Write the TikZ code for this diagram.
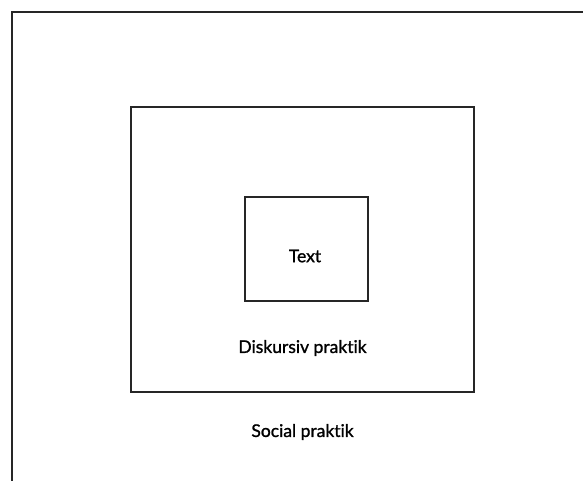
\documentclass[tikz,border=0pt]{standalone}
\usepackage{fontspec}
\setmainfont{Lato}
\newfontfamily\lblfont{Lato}[FakeBold=1.2, Ligatures=NoCommon]
\begin{document}
\begin{tikzpicture}[x=1pt,y=-1pt,
  frame/.style={draw=black!85, line width=1.2pt, inner sep=0pt, outer sep=0pt},
  lbl/.style={font=\lblfont\fontsize{17.5}{20}\selectfont, inner sep=0pt}]
\useasboundingbox (0,0) rectangle (583,480);
\clip (0,0) rectangle (583,480);
\node[frame, minimum width=598pt, minimum height=498pt, anchor=north west] (social) at (12,12) {};
\node[frame, minimum width=343pt, minimum height=285pt, anchor=north west] (disk) at (131,107) {};
\node[frame, minimum width=123pt, minimum height=104pt, anchor=north west] (text) at (245,197) {};
\node[lbl] (tl) at (305,256) {Text};
\node[lbl] (dl) at (302.5,348) {Diskursiv praktik};
\node[lbl] (sl) at (302.5,432) {Social praktik};
\end{tikzpicture}
\end{document}
